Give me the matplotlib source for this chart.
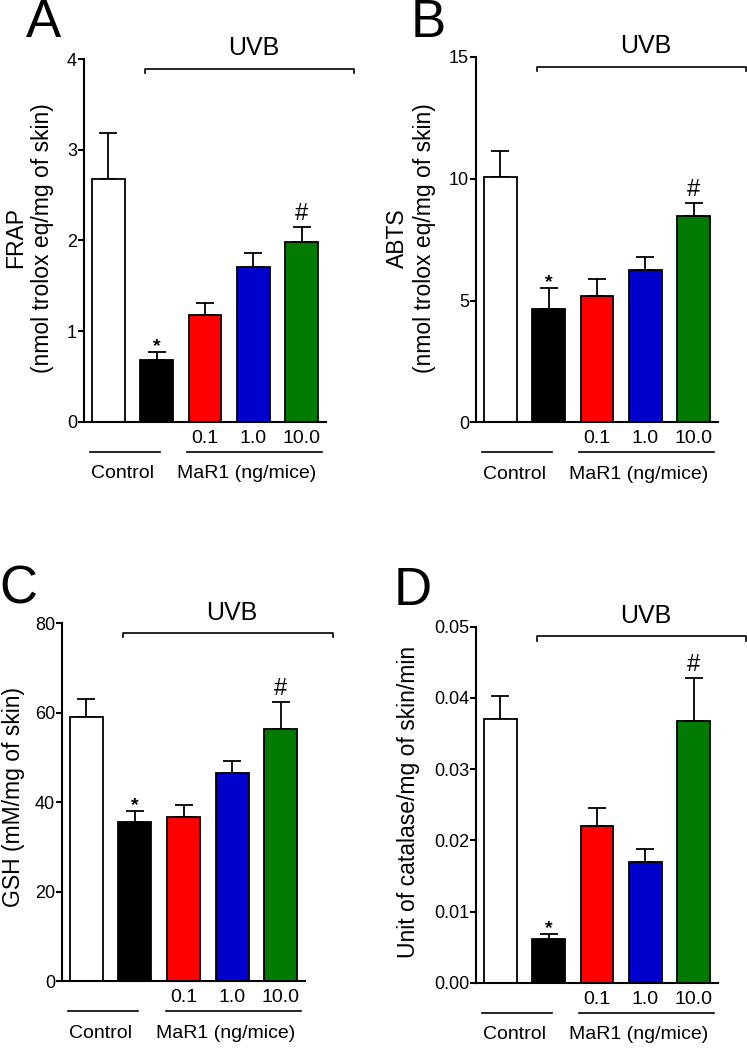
import matplotlib
matplotlib.use("Agg")
import matplotlib.pyplot as plt
import matplotlib.transforms as mtransforms
import numpy as np

plt.rcParams['font.family'] = ['Liberation Sans', 'DejaVu Sans']

# data
groups = ["Control", "UVB", "UVB + MaR1 0.1", "UVB + MaR1 1.0", "UVB + MaR1 10.0"]
dose_labels = ["0.1", "1.0", "10.0"]
bar_colors = ["white", "black", "#ff0000", "#0000cc", "#007a00"]

frap_mean = [2.68, 0.68, 1.18, 1.71, 1.98]
frap_err = [0.50, 0.085, 0.13, 0.15, 0.17]

abts_mean = [10.09, 4.64, 5.20, 6.25, 8.47]
abts_err = [1.05, 0.86, 0.67, 0.55, 0.55]

gsh_mean = [59.1, 35.6, 36.7, 46.6, 56.3]
gsh_err = [4.0, 2.5, 2.6, 2.7, 6.0]

cat_mean = [0.0371, 0.0061, 0.0220, 0.0169, 0.0367]
cat_err = [0.0032, 0.0007, 0.0025, 0.0019, 0.0061]

W, H = 747, 1053
fig = plt.figure(figsize=(W / 100, H / 100), dpi=100)


def px_axes(left, top, right, bottom):
    return fig.add_axes([left / W, 1 - bottom / H, (right - left) / W, (bottom - top) / H])


def below(ax, pts):
    # x in data, y = bottom of axes shifted down by pts points
    return ax.get_xaxis_transform() + mtransforms.ScaledTranslation(0, -pts / 72, fig.dpi_scale_trans)


def panel(ax, mean, err, ylim, yticks, yticklabels, ylabel, label_xy, letter, letter_xy):
    x = np.arange(len(mean))
    ax.bar(x, mean, width=0.68, color=bar_colors, edgecolor="black", linewidth=1.3, zorder=2)
    ax.errorbar(x, mean, yerr=[np.zeros(len(err)), err], fmt="none", ecolor="black",
                elinewidth=1.3, capsize=6.5, capthick=1.3, zorder=1)
    ax.set_xlim(-0.5, 4.5)
    ax.set_ylim(*ylim)
    ax.set_yticks(yticks)
    ax.set_yticklabels(yticklabels, fontsize=13)
    ax.tick_params(axis="y", length=4.2, width=1.5, pad=0.8)
    ax.set_xticks([])
    for s in ["top", "right"]:
        ax.spines[s].set_visible(False)
    for s in ["left", "bottom"]:
        ax.spines[s].set_linewidth(1.5)

    fig.text(label_xy[0] / W, 1 - label_xy[1] / H, ylabel, rotation=90, ha="center", va="center",
             fontsize=16.5, linespacing=1.2, multialignment="center")

    # significance marks
    ax.annotate("*", (1, mean[1] + err[1]), xytext=(0, -2.3), textcoords="offset points",
                ha="center", va="bottom", fontsize=14, fontweight="bold")
    ax.annotate("#", (4, mean[4] + err[4]), xytext=(0, 5), textcoords="offset points",
                ha="center", va="baseline", fontsize=17)

    # UVB bracket
    yb = 0.973
    tip = 0.012
    ax.plot([0.76, 0.76, 5.07, 5.07], [yb - tip, yb, yb, yb - tip], color="black", lw=1.2,
            transform=ax.get_xaxis_transform(), clip_on=False)
    ax.text(3.0, 1.03, "UVB", transform=ax.get_xaxis_transform(), ha="center", va="center",
            fontsize=18)

    # dose labels and group lines below the axis
    for xi, lab in zip([2, 3, 4], dose_labels):
        ax.text(xi, 0, lab, transform=below(ax, 12), ha="center", va="center", fontsize=14)
    ax.plot([-0.37, 1.07], [0, 0], color="black", lw=1.2, transform=below(ax, 21.5), clip_on=False)
    ax.plot([1.63, 4.41], [0, 0], color="black", lw=1.2, transform=below(ax, 21.5), clip_on=False)
    ax.text(0.29, 0, "Control", transform=below(ax, 37.5), ha="center", va="center", fontsize=14)
    ax.text(2.87, 0, "MaR1 (ng/mice)", transform=below(ax, 37.5), ha="center", va="center", fontsize=14)

    fig.text(letter_xy[0] / W, 1 - letter_xy[1] / H, letter, fontsize=38, ha="left", va="baseline")


axA = px_axes(84, 59, 326, 421.7)
panel(axA, frap_mean, frap_err, (0, 4), [0, 1, 2, 3, 4], ["0", "1", "2", "3", "4"],
      "FRAP\n(nmol trolox eq/mg of skin)", (29, 238), "A", (26, 37))

axB = px_axes(476, 57, 718, 422.3)
panel(axB, abts_mean, abts_err, (0, 15), [0, 5, 10, 15], ["0", "5", "10", "15"],
      "ABTS\n(nmol trolox eq/mg of skin)", (411, 238), "B", (411, 37))

axC = px_axes(62, 623.3, 305, 981)
panel(axC, gsh_mean, gsh_err, (0, 80), [0, 20, 40, 60, 80], ["0", "20", "40", "60", "80"],
      "GSH (mM/mg of skin)", (14, 797), "C", (-1, 603))

axD = px_axes(476, 626.7, 718, 982.7)
panel(axD, cat_mean, cat_err, (0, 0.05), [0, 0.01, 0.02, 0.03, 0.04, 0.05],
      ["0.00", "0.01", "0.02", "0.03", "0.04", "0.05"],
      "Unit of catalase/mg of skin/min", (409, 802), "D", (394, 605))

fig.savefig("out.png", dpi=100)
